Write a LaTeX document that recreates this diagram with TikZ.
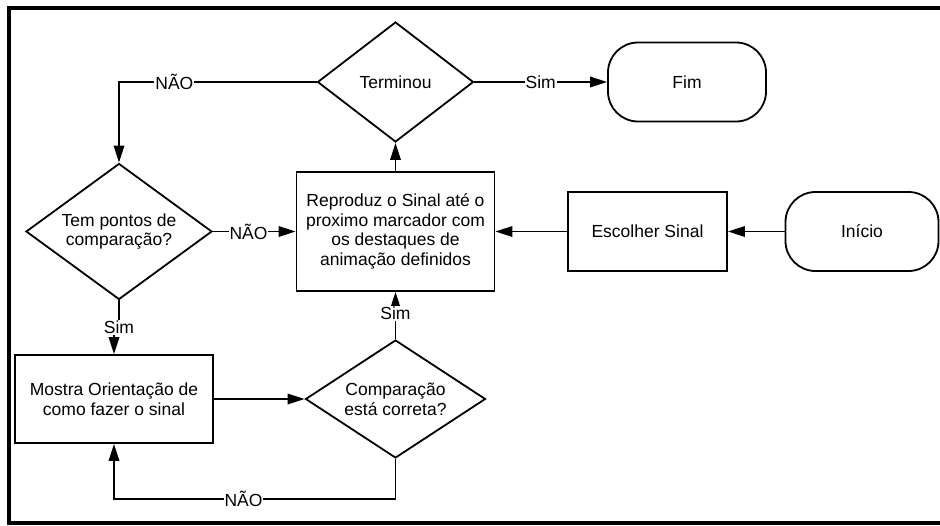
\documentclass[tikz,border=0pt]{standalone}
\usepackage{fontspec}
\setmainfont{Liberation Sans}
\usetikzlibrary{arrows.meta,shapes.geometric}

\begin{document}
\begin{tikzpicture}[x=1pt,y=-1pt,
    every node/.style={font=\fontsize{17.5}{19.7}\selectfont},
    process/.style={draw, rectangle, line width=1.8pt, inner sep=0pt, align=center},
    decision/.style={draw, diamond, aspect=1.5, line width=1.8pt, inner sep=0pt, align=center},
    startstop/.style={draw, rectangle, rounded corners=30pt, line width=1.8pt, align=center},
    conn/.style={line width=1.8pt, -{Triangle[length=17pt,width=10.5pt]}},
    lbl/.style={fill=white, inner sep=1pt}]
      \useasboundingbox (0,0) rectangle (940,525);
      \draw [line width=4pt] (940,8) -- (9,8) -- (9,523) -- (940,523);
      \node [decision, minimum width=156pt, minimum height=120pt] (terminou) at (395.5,82) {Terminou};
      \node [startstop, minimum width=158pt, minimum height=79pt] (fim) at (687,82) {Fim};
      \node [process, minimum width=198pt, minimum height=119pt] (reproduz) at (395.5,231.5)
          {Reproduz o Sinal até o\\proximo marcador com\\os destaques de\\animação definidos};
      \node [process, minimum width=159pt, minimum height=79pt] (escolher) at (647.5,231.5) {Escolher Sinal};
      \node [startstop, minimum width=153pt, minimum height=79pt] (inicio) at (862,231.5) {Início};
      \node [decision, minimum width=186pt, minimum height=136pt] (pontos) at (119,231.5) {Tem pontos de\\comparação?};
      \node [process, minimum width=198pt, minimum height=88pt] (mostra) at (114,399)
          {Mostra Orientação de\\como fazer o sinal};
      \node [decision, minimum width=180pt, minimum height=118pt] (comparacao) at (395.5,399) {Comparação\\está correta?};
      % ligacoes
      \draw [conn] (inicio) -- (escolher);
      \draw [conn] (escolher) -- (reproduz);
      \draw [conn] (reproduz) -- (terminou);
      \draw [conn] (terminou) -- node [lbl] {Sim} (fim);
      \draw [conn] (terminou.west) -| node [lbl, pos=0.36] {NÃO} (pontos.north);
      \draw [conn] (pontos) -- node [lbl, pos=0.43] {NÃO} (reproduz);
      \draw [conn] (pontos.south) -- ++(0,27) -| node [lbl, pos=0] {Sim} (mostra.north);
      \draw [conn] (mostra) -- (comparacao);
      \draw [conn] (comparacao.north) -- node [lbl, pos=0.55] {Sim} (comparacao.north |- reproduz.south);
      \draw [conn] (comparacao.south) -- ++(0,40) -| node [lbl, pos=0.27] {NÃO} (mostra.south);
\end{tikzpicture}
\end{document}
